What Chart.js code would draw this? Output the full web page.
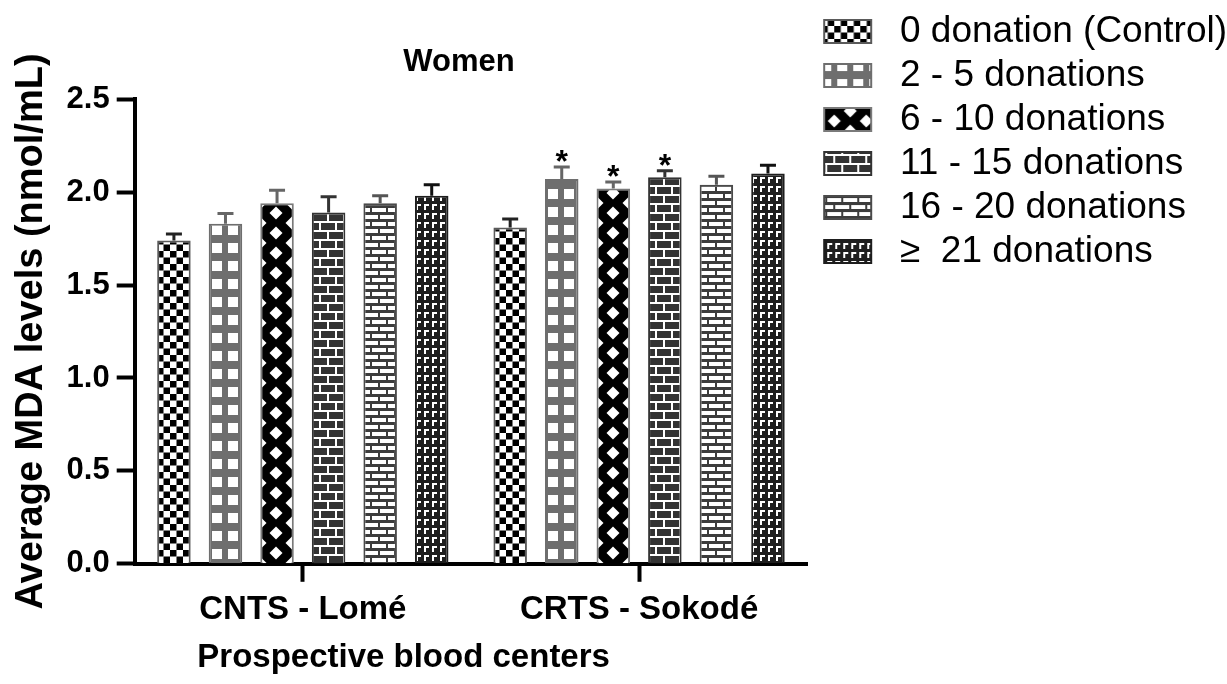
<!DOCTYPE html>
<html>
<head>
<meta charset="utf-8">
<title>Women - Average MDA levels</title>
<script src="https://cdn.jsdelivr.net/npm/chart.js@4/dist/chart.umd.min.js"></script>
<style>
  html, body { margin: 0; padding: 0; background: #fff; }
  #wrap { width: 1227px; height: 684px; }
</style>
</head>
<body>
<div id="wrap"><canvas id="mdaChart" width="1227" height="684"></canvas></div>
<script>
// Data
const centers = ['CNTS - Lomé', 'CRTS - Sokodé'];
const donationGroups = ['0 donation (Control)', '2 - 5 donations', '6 - 10 donations',
                        '11 - 15 donations', '16 - 20 donations', '≥  21 donations'];

const meanControl = [1.74, 1.81];
const mean2to5    = [1.83, 2.07];
const mean6to10   = [1.94, 2.02];
const mean11to15  = [1.89, 2.08];
const mean16to20  = [1.94, 2.04];
const mean21plus  = [1.98, 2.10];

const semControl = [0.035, 0.045];
const sem2to5    = [0.055, 0.065];
const sem6to10   = [0.07, 0.035];
const sem11to15  = [0.085, 0.035];
const sem16to20  = [0.04, 0.045];
const sem21plus  = [0.06, 0.045];

const sigControl = ['', ''];
const sig2to5    = ['', '*'];
const sig6to10   = ['', '*'];
const sig11to15  = ['', '*'];
const sig16to20  = ['', ''];
const sig21plus  = ['', ''];

const yTickValues = [0, 0.5, 1.0, 1.5, 2.0, 2.5];

const seriesMeans = [meanControl, mean2to5, mean6to10, mean11to15, mean16to20, mean21plus];
const seriesErrors = [semControl, sem2to5, sem6to10, sem11to15, sem16to20, sem21plus];
const seriesSig = [sigControl, sig2to5, sig6to10, sig11to15, sig16to20, sig21plus];

// Styles
const FONT = "'Liberation Sans', Arial, Helvetica, sans-serif";
const borderColors = ['#5a5a5a', '#6e6e6e', '#7a7a7a', '#333333', '#4a4a4a', '#1e1e1e'];
const errorColors = ['#222222', '#666666', '#666666', '#333333', '#555555', '#111111'];

const ctx = document.getElementById('mdaChart').getContext('2d');

function tile(w, h, paint) {
    const c = document.createElement('canvas');
    c.width = w;
    c.height = h;
    paint(c.getContext('2d'), w, h);
    return c;
}

function diamond(g, cx, cy, hw, hh) {
    g.beginPath();
    g.moveTo(cx, cy - hh);
    g.lineTo(cx + hw, cy);
    g.lineTo(cx, cy + hh);
    g.lineTo(cx - hw, cy);
    g.closePath();
    g.fill();
}

const tiles = [
    // checker board
    tile(13, 13, (g) => {
        g.fillStyle = '#fff'; g.fillRect(0, 0, 13, 13);
        g.fillStyle = '#000'; g.fillRect(0, 0, 6.5, 6.5); g.fillRect(6.5, 6.5, 6.5, 6.5);
    }),
    // gray with white windows
    tile(16, 18, (g) => {
        g.fillStyle = '#6e6e6e'; g.fillRect(0, 0, 16, 18);
        g.fillStyle = '#fff'; g.fillRect(3, 4, 10, 10);
    }),
    // black lattice with white diamonds
    tile(32, 20, (g) => {
        g.fillStyle = '#000'; g.fillRect(0, 0, 32, 20);
        g.fillStyle = '#fff';
        diamond(g, 16, 10, 6.5, 6.5);
        [[0, 0], [32, 0], [0, 20], [32, 20]].forEach(([x, y]) => diamond(g, x, y, 6.5, 6.5));
    }),
    // dark bricks, white mortar
    tile(16, 18, (g) => {
        g.fillStyle = '#333'; g.fillRect(0, 0, 16, 18);
        g.fillStyle = '#fff';
        g.fillRect(0, 0, 16, 2); g.fillRect(0, 9, 16, 2);
        g.fillRect(7, 2, 2, 7);
        g.fillRect(0, 11, 1, 7); g.fillRect(15, 11, 1, 7);
    }),
    // white bricks, dark mortar
    tile(16, 14, (g) => {
        g.fillStyle = '#3c3c3c'; g.fillRect(0, 0, 16, 14);
        g.fillStyle = '#fff';
        g.fillRect(1, 2, 14, 4);
        g.fillRect(0, 9, 7, 4); g.fillRect(9, 9, 7, 4);
    }),
    // dark with white corner marks
    tile(8, 9, (g) => {
        g.fillStyle = '#1e1e1e'; g.fillRect(0, 0, 8, 9);
        g.fillStyle = '#fff';
        g.fillRect(1, 1, 5, 2); g.fillRect(1, 1, 2, 6);
    })
];

// one pattern per bar so each can be aligned to its own bar
const barPatterns = tiles.map(t => centers.map(() => ctx.createPattern(t, 'repeat')));
const legendPatterns = tiles.map(t => ctx.createPattern(t, 'repeat'));

const LEGEND_SHIFT = 10;
const TITLE_SHIFT = -12;

function shifted(obj, method, dx) {
    const orig = obj[method];
    obj[method] = function (...args) {
        this.ctx.save();
        this.ctx.translate(typeof dx === 'function' ? dx(this) : dx, 0);
        orig.apply(this, args);
        this.ctx.restore();
    };
}

const alignPatterns = {
    id: 'alignPatterns',
    beforeDatasetsDraw(chart) {
        chart.data.datasets.forEach((ds, i) => {
            chart.getDatasetMeta(i).data.forEach((bar, j) => {
                const left = Math.round(bar.x - bar.width / 2);
                barPatterns[i][j].setTransform(new DOMMatrix([1, 0, 0, 1, left, Math.round(bar.base)]));
            });
        });
        const boxes = chart.legend.legendHitBoxes || [];
        boxes.forEach((hb, i) => {
            legendPatterns[i].setTransform(new DOMMatrix([1, 0, 0, 1, hb.left + LEGEND_SHIFT, hb.top]));
        });
    }
};

const errorBars = {
    id: 'errorBars',
    afterDatasetsDraw(chart) {
        const g = chart.ctx;
        const y = chart.scales.y;
        g.save();
        chart.data.datasets.forEach((ds, i) => {
            chart.getDatasetMeta(i).data.forEach((bar, j) => {
                const top = y.getPixelForValue(seriesMeans[i][j] + seriesErrors[i][j]);
                g.strokeStyle = errorColors[i];
                g.lineWidth = 3;
                g.beginPath();
                g.moveTo(bar.x, bar.y);
                g.lineTo(bar.x, top);
                g.moveTo(bar.x - 8, top);
                g.lineTo(bar.x + 8, top);
                g.stroke();
                if (seriesSig[i][j]) {
                    g.fillStyle = '#000';
                    g.font = 'bold 32px ' + FONT;
                    g.textAlign = 'center';
                    g.textBaseline = 'alphabetic';
                    g.fillText(seriesSig[i][j], bar.x, top + 5);
                }
            });
        });
        g.restore();
    }
};

const chart = new Chart(ctx, {
    type: 'bar',
    data: {
        labels: centers,
        datasets: donationGroups.map((label, i) => ({
            label: label,
            data: seriesMeans[i],
            backgroundColor: barPatterns[i],
            borderColor: borderColors[i],
            borderWidth: 2,
            categoryPercentage: 0.92,
            barPercentage: 0.65
        }))
    },
    options: {
        responsive: false,
        animation: false,
        devicePixelRatio: 1,
        layout: { padding: { top: 6, left: 4, right: 0, bottom: 6 } },
        plugins: {
            tooltip: { enabled: false },
            title: {
                display: true,
                text: 'Women',
                color: '#000',
                fullSize: false,
                font: { family: FONT, size: 31, weight: 'bold' },
                padding: { top: 38, bottom: 18 }
            },
            legend: {
                position: 'right',
                align: 'start',
                maxWidth: 600,
                labels: {
                    color: '#000',
                    font: { family: FONT, size: 37 },
                    boxWidth: 47,
                    boxHeight: 23,
                    padding: 7,
                    generateLabels: (c) => c.data.datasets.map((ds, i) => ({
                        text: ' ' + ds.label,
                        fillStyle: legendPatterns[i],
                        strokeStyle: borderColors[i],
                        lineWidth: 2,
                        hidden: false,
                        fontColor: '#000',
                        datasetIndex: i
                    }))
                }
            }
        },
        scales: {
            x: {
                offset: true,
                border: { display: true, color: '#000', width: 4 },
                grid: { offset: false, drawOnChartArea: false, tickLength: 18, tickWidth: 4, tickColor: '#000' },
                ticks: { color: '#000', padding: 8, font: { family: FONT, size: 33, weight: 'bold' } },
                title: {
                    display: true,
                    text: 'Prospective blood centers',
                    color: '#000',
                    font: { family: FONT, size: 33, weight: 'bold' },
                    padding: { top: 1, bottom: 0 }
                }
            },
            y: {
                min: 0,
                max: 2.5,
                afterBuildTicks: (s) => { s.ticks = yTickValues.map(value => ({ value })); },
                border: { display: true, color: '#000', width: 4 },
                grid: { drawOnChartArea: false, tickLength: 18, tickWidth: 4, tickColor: '#000' },
                ticks: {
                    color: '#000',
                    padding: 7,
                    font: { family: FONT, size: 31, weight: 'bold' },
                    callback: (v) => Number(v).toFixed(1)
                },
                title: {
                    display: true,
                    text: 'Average MDA levels (nmol/mL)',
                    color: '#000',
                    font: { family: FONT, size: 38, weight: 'bold' },
                    padding: { top: 5, bottom: 5 }
                }
            }
        }
    },
    plugins: [alignPatterns, errorBars]
});

// legend sits a little away from the plot; x title is centred under axis + labels
shifted(chart.legend, 'draw', LEGEND_SHIFT);
shifted(chart.titleBlock, 'draw', TITLE_SHIFT);
shifted(chart.scales.x, 'drawTitle', (s) => -s.left / 2);
chart.update();
</script>
</body>
</html>
